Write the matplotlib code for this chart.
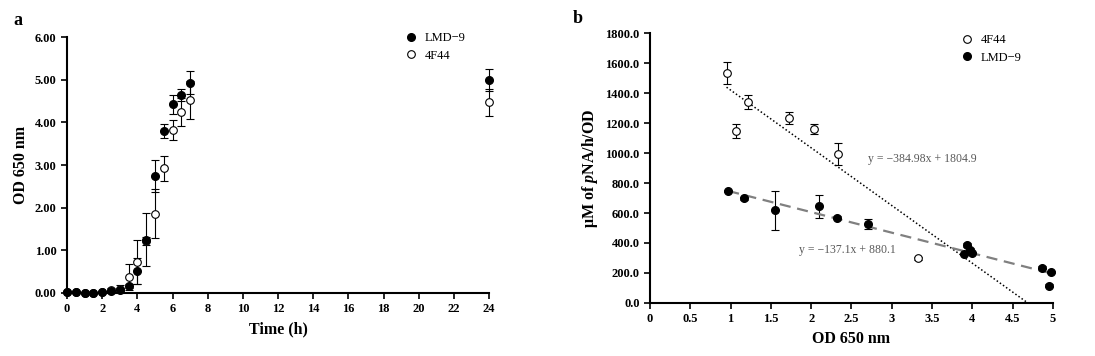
import matplotlib
matplotlib.use('Agg')
import matplotlib.pyplot as plt
from matplotlib.lines import Line2D

plt.rcParams['font.family'] = ['Liberation Serif', 'DejaVu Serif']
plt.rcParams['mathtext.fontset'] = 'custom'
plt.rcParams['mathtext.rm'] = 'Liberation Serif:bold'
plt.rcParams['mathtext.it'] = 'Liberation Serif:italic:bold'

# panel a - growth curves
time = [0, 0.5, 1, 1.5, 2, 2.5, 3, 3.5, 4, 4.5, 5, 5.5, 6, 6.5, 7, 24]
lmd_od = [0.03, 0.03, 0.01, 0.01, 0.02, 0.05, 0.07, 0.16, 0.51, 1.25, 2.74, 3.80, 4.42, 4.63, 4.93, 5.00]
lmd_err = [0.01, 0.01, 0.01, 0.01, 0.02, 0.03, 0.05, 0.05, 0.3, 0.62, 0.38, 0.16, 0.23, 0.14, 0.27, 0.26]
f44_od = [0.03, 0.02, 0.01, 0.01, 0.03, 0.08, 0.10, 0.38, 0.73, 1.22, 1.86, 2.92, 3.82, 4.24, 4.52, 4.47]
f44_err = [0.01, 0.01, 0.01, 0.01, 0.02, 0.04, 0.08, 0.30, 0.52, 0.10, 0.57, 0.29, 0.24, 0.32, 0.44, 0.31]

# panel b - activity vs OD
f44_x = [0.95, 1.07, 1.22, 1.72, 2.04, 2.33, 3.33]
f44_act = [1533, 1147, 1339, 1234, 1161, 993, 298]
f44_act_err = [72, 45, 45, 38, 35, 75, 10]
lmd_x = [0.97, 1.17, 1.55, 2.10, 2.32, 2.71, 3.93, 3.90, 3.99, 3.97, 4.87, 4.98, 4.95]
lmd_act = [746, 697, 617, 644, 570, 526, 385, 327, 332, 356, 236, 207, 116]
lmd_act_err = [8, 8, 130, 77, 8, 32, 15, 8, 8, 8, 8, 8, 8]

fig = plt.figure(figsize=(10.95, 3.56), dpi=100)
axa = fig.add_axes([0.0612, 0.177, 0.3854, 0.719])
axb = fig.add_axes([0.5936, 0.149, 0.368, 0.758])

eb = dict(ecolor='black', elinewidth=0.8, capsize=3, capthick=0.8, linestyle='none')
filled = dict(marker='o', color='black', ms=5.5)
hollow = dict(marker='o', mfc='white', mec='black', ms=5.5, mew=0.8)

conts = []
conts.append(axa.errorbar(time, f44_od, yerr=f44_err, **hollow, **eb))
conts.append(axa.errorbar(time, lmd_od, yerr=lmd_err, **filled, **eb))
axa.set_xlim(0, 24)
axa.set_ylim(0, 6)
axa.set_xticks(range(0, 25, 2))
axa.set_yticks([0, 1, 2, 3, 4, 5, 6])
axa.set_yticklabels(['%.2f' % v for v in [0, 1, 2, 3, 4, 5, 6]])
axa.set_xlabel('Time (h)', fontsize=11.5, fontweight='bold')
axa.set_ylabel('OD 650 nm', fontsize=11.5, fontweight='bold')
hand_a = [Line2D([], [], ls='none', **filled), Line2D([], [], ls='none', **hollow)]
axa.legend(hand_a, ['LMD\u22129', '4F44'], loc='upper left', frameon=False, fontsize=9,
           handlelength=1, handletextpad=0.6, borderpad=0, borderaxespad=0, labelspacing=0.45,
           bbox_to_anchor=(405 / 1095, 1 - 32 / 356), bbox_transform=fig.transFigure)

conts.append(axb.errorbar(f44_x, f44_act, yerr=f44_act_err, **hollow, **eb))
conts.append(axb.errorbar(lmd_x, lmd_act, yerr=lmd_act_err, **filled, **eb))
# linear fits
xs = [0.95, 4.69]
axb.plot(xs, [-384.98 * x + 1804.9 for x in xs], color='black', ls=(0, (1, 1.5)), lw=1.1)
xs = [0.97, 4.98]
axb.plot(xs, [-137.1 * x + 880.1 for x in xs], color='#808080', ls=(0, (5, 3)), lw=1.6)
axb.text(2.7, 962, 'y = \u2212384.98x + 1804.9', color='#595959', fontsize=8.5, va='center')
axb.text(1.85, 354, 'y = \u2212137.1x + 880.1', color='#595959', fontsize=8.5, va='center')
axb.set_xlim(0, 5)
axb.set_ylim(0, 1800)
axb.set_xticks([0, 0.5, 1, 1.5, 2, 2.5, 3, 3.5, 4, 4.5, 5])
axb.set_xticklabels(['0', '0.5', '1', '1.5', '2', '2.5', '3', '3.5', '4', '4.5', '5'])
axb.set_yticks(range(0, 1801, 200))
axb.set_yticklabels(['%.1f' % v for v in range(0, 1801, 200)])
axb.set_xlabel('OD 650 nm', fontsize=11.5, fontweight='bold')
axb.set_ylabel('\u03bcM of $\\mathit{p}$NA/h/OD', fontsize=11.5, fontweight='bold')
hand_b = [Line2D([], [], ls='none', **hollow), Line2D([], [], ls='none', **filled)]
axb.legend(hand_b, ['4F44', 'LMD\u22129'], loc='upper left', frameon=False, fontsize=9,
           handlelength=1, handletextpad=0.6, borderpad=0, borderaxespad=0, labelspacing=0.45,
           bbox_to_anchor=(961 / 1095, 1 - 34 / 356), bbox_transform=fig.transFigure)

for c in conts:
    for art in c.get_children():
        art.set_clip_on(False)

for ax in (axa, axb):
    ax.spines['top'].set_visible(False)
    ax.spines['right'].set_visible(False)
    for s in ('left', 'bottom'):
        ax.spines[s].set_linewidth(1.5)
    ax.tick_params(direction='out', length=4, width=1.2, labelsize=9)
    for lab in ax.get_xticklabels() + ax.get_yticklabels():
        lab.set_fontweight('bold')

fig.text(0.012, 0.93, 'a', fontsize=13, fontweight='bold')
fig.text(0.523, 0.935, 'b', fontsize=13, fontweight='bold')

fig.savefig('out.png', dpi=100)
